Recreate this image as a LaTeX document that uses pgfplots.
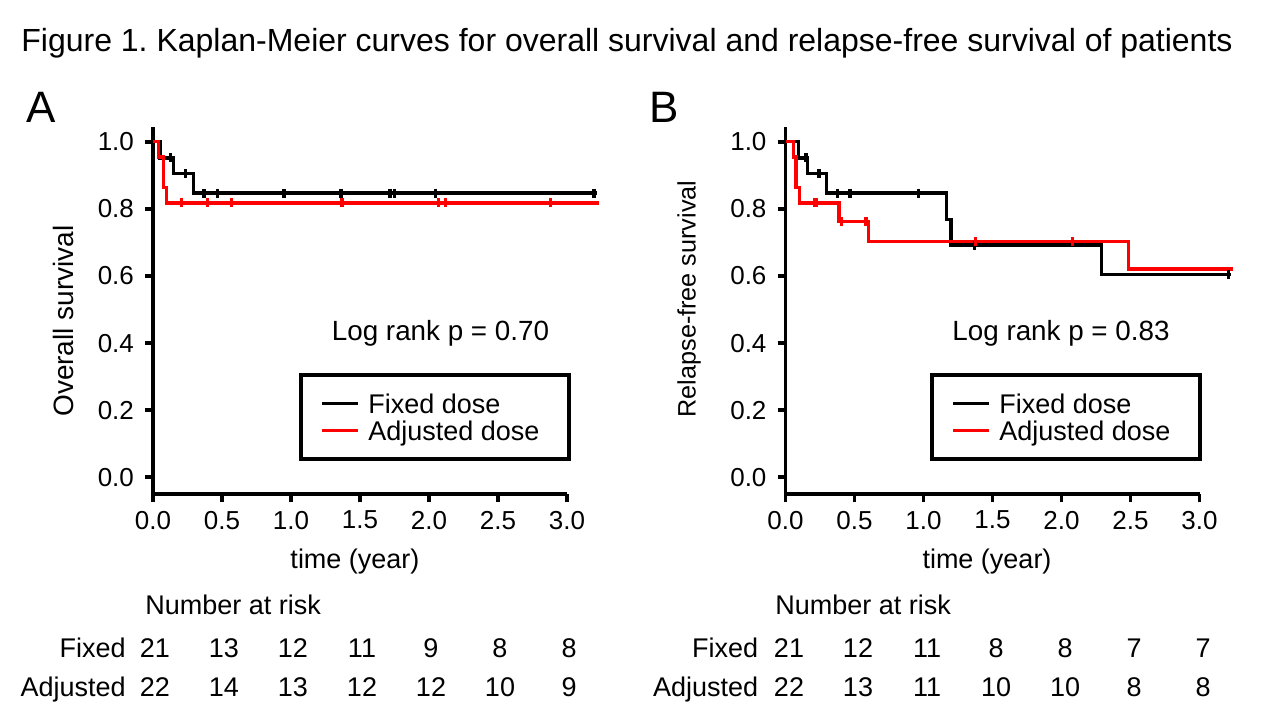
\documentclass[border=0pt]{standalone}
\usepackage{pgfplots}
\pgfplotsset{compat=1.18}
\usepackage{fontspec}
\setmainfont{Liberation Sans}

\definecolor{kmred}{RGB}{255,0,0}

\pgfplotsset{
  kmaxis/.style={
    scale only axis, width=207pt, height=183.65pt,
    xmin=0, xmax=3, ymin=-0.05, ymax=1.045,
    clip=false,
    axis x line*=bottom, axis y line*=left,
    axis line style={line width=1.8pt, -},
    every tick/.style={line width=1.8pt, black},
    tick align=outside, major tick length=4pt,
    xtick={0,0.5,1,1.5,2,2.5,3},
    ytick={0,0.2,0.4,0.6,0.8,1},
    /pgf/number format/.cd, fixed, fixed zerofill, precision=1, assume math mode=true,
    /pgfplots/.cd,
    tick label style={font=\fontsize{13}{15}\selectfont},
    yticklabel style={xshift=-2pt},
    xticklabel style={yshift=-1pt},
  },
  kmline/.style={const plot, line width=1.7pt, mark=none},
  kmcens/.style={only marks, mark=|, mark size=2.2pt, mark options={line width=1.6pt}},
}

\begin{document}
\begin{tikzpicture}
\useasboundingbox (0pt,0pt) rectangle (631pt,359pt);

\node[anchor=base, inner sep=0pt, font=\fontsize{16}{18}\selectfont] at (313.5pt,333.2pt)
  {\frenchspacing Figure 1. Kaplan-Meier curves for overall survival and relapse-free survival of patients};
\node[font=\fontsize{22}{24}\selectfont] at (20.5pt,305.5pt) {A};
\node[font=\fontsize{22}{24}\selectfont] at (332pt,305.5pt) {B};

% panel A: overall survival
\begin{axis}[kmaxis, at={(76.5pt,112pt)}, anchor=south west]
  \addplot[kmline, black] coordinates {(0,1) (0.05,0.952) (0.147,0.905) (0.292,0.847) (3.22,0.847)};
  \addplot[kmcens, black] coordinates {(0.128,0.952) (0.237,0.905) (0.37,0.847) (0.469,0.847) (0.949,0.847)
    (1.362,0.847) (1.717,0.847) (1.751,0.847) (2.049,0.847) (3.196,0.847)};
  \addplot[kmline, kmred] coordinates {(0,1) (0.04,0.955) (0.075,0.864) (0.099,0.818) (3.23,0.818)};
  \addplot[kmcens, kmred] coordinates {(0.208,0.818) (0.396,0.818) (0.57,0.818) (1.37,0.818)
    (2.07,0.818) (2.12,0.818) (2.88,0.818)};
\end{axis}

% panel B: relapse-free survival
\begin{axis}[kmaxis, at={(392.75pt,112pt)}, anchor=south west]
  \addplot[kmline, black] coordinates {(0,1) (0.093,0.952) (0.158,0.905) (0.298,0.847) (1.168,0.769)
    (1.199,0.692) (2.29,0.604) (3.23,0.604)};
  \addplot[kmcens, black] coordinates {(0.149,0.952) (0.243,0.905) (0.378,0.847) (0.467,0.847) (0.962,0.847)
    (1.368,0.692) (3.21,0.604)};
  \addplot[kmline, kmred] coordinates {(0,1) (0.057,0.955) (0.076,0.864) (0.1,0.818) (0.388,0.763)
    (0.60,0.703) (2.484,0.621) (3.24,0.621)};
  \addplot[kmcens, kmred] coordinates {(0.214,0.818) (0.225,0.818) (0.407,0.763) (0.583,0.763)
    (1.378,0.703) (2.08,0.703)};
\end{axis}

% axis labels
\node[rotate=90, font=\fontsize{14}{16}\selectfont] at (31.5pt,198.5pt) {Overall survival};
\node[rotate=90, font=\fontsize{12.6}{15}\selectfont] at (344.5pt,209.5pt) {Relapse-free survival};
\node[font=\fontsize{13.5}{16}\selectfont] at (177.5pt,78pt) {time (year)};
\node[font=\fontsize{13.5}{16}\selectfont] at (493.5pt,78pt) {time (year)};

\node[anchor=base, font=\fontsize{13.9}{16}\selectfont] at (220.25pt,188.7pt) {Log rank p = 0.70};
\node[anchor=base, font=\fontsize{13.9}{16}\selectfont] at (530.5pt,188.7pt) {Log rank p = 0.83};

% legends
\foreach \lx in {150.5pt, 466pt} {
  \draw[line width=2pt] (\lx,171.5pt) rectangle ++(134pt,-42pt);
  \draw[line width=1.7pt, black] ([xshift=10.5pt]\lx,157.35pt) -- ++(18pt,0pt);
  \draw[line width=1.7pt, kmred] ([xshift=10.5pt]\lx,143.65pt) -- ++(18pt,0pt);
  \node[anchor=base west, inner sep=0pt, font=\fontsize{13.5}{16}\selectfont] at ([xshift=33.5pt]\lx,152.35pt) {Fixed dose};
  \node[anchor=base west, inner sep=0pt, font=\fontsize{13.5}{16}\selectfont] at ([xshift=33.5pt]\lx,138.65pt) {Adjusted dose};
}

% number at risk
\begin{scope}[font=\fontsize{13.5}{16}\selectfont, inner sep=0pt]
  \node[anchor=base west] at (72.5pt,51.6pt) {Number at risk};
  \node[anchor=base east] at (63pt,30.5pt) {Fixed};
  \node[anchor=base east] at (63pt,11pt) {Adjusted};
  \foreach \n [count=\i from 0] in {21,13,12,11,9,8,8}
    \node[anchor=base] at (77.5pt+\i*34.5pt,30.5pt) {\n};
  \foreach \n [count=\i from 0] in {22,14,13,12,12,10,9}
    \node[anchor=base] at (77.5pt+\i*34.5pt,11pt) {\n};

  \node[anchor=base west] at (387.5pt,51.6pt) {Number at risk};
  \node[anchor=base east] at (379.25pt,30.5pt) {Fixed};
  \node[anchor=base east] at (379.25pt,11pt) {Adjusted};
  \foreach \n [count=\i from 0] in {21,12,11,8,8,7,7}
    \node[anchor=base] at (394.5pt+\i*34.5pt,30.5pt) {\n};
  \foreach \n [count=\i from 0] in {22,13,11,10,10,8,8}
    \node[anchor=base] at (394.5pt+\i*34.5pt,11pt) {\n};
\end{scope}
\end{tikzpicture}
\end{document}
